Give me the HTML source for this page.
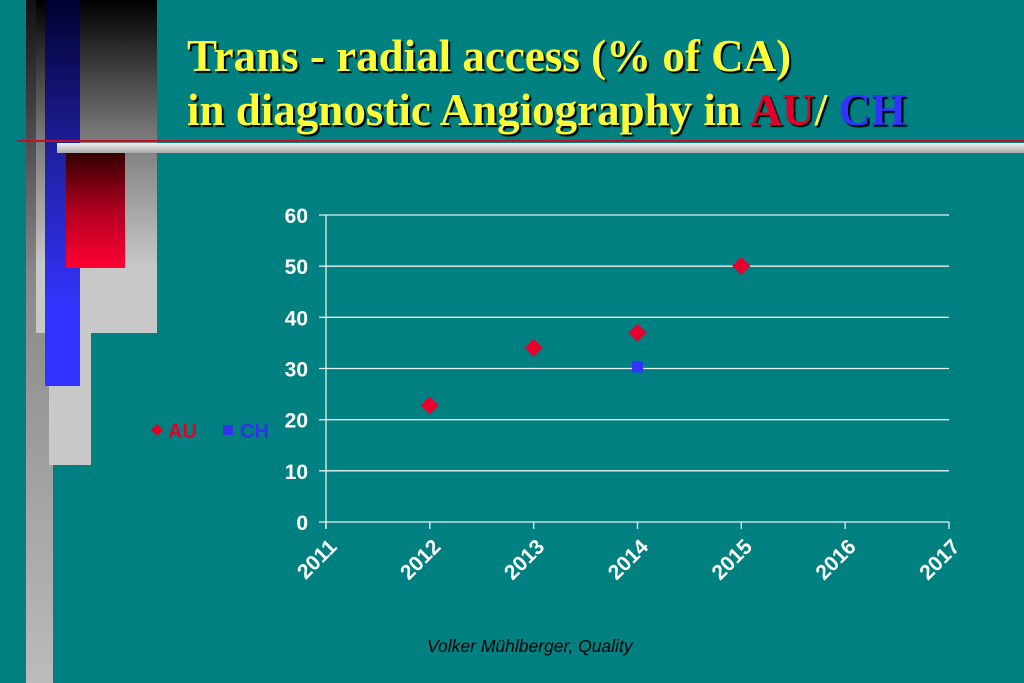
<!DOCTYPE html>
<html><head><meta charset="utf-8"><style>
body{margin:0;width:1024px;height:683px;background:#008080;position:relative;overflow:hidden;font-family:"Liberation Sans",sans-serif}
.a{position:absolute}
.t{position:absolute;left:187px;font-family:"Liberation Serif",serif;font-weight:bold;font-size:45px;line-height:52px;color:#ffff33;text-shadow:2px 2px 1px #000;white-space:nowrap}
</style></head><body>
<div class="a" style="left:26px;top:0;width:27px;height:683px;background:linear-gradient(#111,#888 40%,#bbb)"></div>
<div class="a" style="left:36px;top:0;width:121px;height:333px;background:linear-gradient(#000,#777 40%,#c8c8c8 80%)"></div>
<div class="a" style="left:49px;top:333px;width:42px;height:132px;background:#c8c8c8"></div>
<div class="a" style="left:45px;top:0;width:35px;height:386px;background:linear-gradient(#000030,#2020a0 40%,#3333ff 80%)"></div>
<div class="a" style="left:57px;top:143px;width:967px;height:10px;background:linear-gradient(#eee,#aaa)"></div>
<div class="a" style="left:17px;top:140px;width:1007px;height:2px;background:#c0102a"></div>
<div class="a" style="left:66px;top:153px;width:59px;height:115px;background:linear-gradient(#300,#b00020 50%,#ff0033)"></div>
<div class="t" style="top:30px">Trans - radial access (% of CA)</div>
<div class="t" style="top:84px">in diagnostic Angiography in <span style="color:#e0002a">AU</span>/ <span style="color:#3333ff">CH</span></div>
<svg class="a" style="left:0;top:0" width="1024" height="683">
<g id="g"></g>
</svg>
<div class="a" style="left:427px;top:636px;font-style:italic;font-size:17.5px;color:#000">Volker Mühlberger, Quality</div>
<script>
const xTicks=[2011,2012,2013,2014,2015,2016,2017];
const yTicks=[0,10,20,30,40,50,60];
const auYears=[2012,2013,2014,2015];
const auValues=[22.8,34,37,50];
const chYears=[2014];
const chValues=[30.3];
const X=v=>326+(v-2011)*(949-326)/6;
const Y=v=>522-v*(522-215)/60;
const g=document.getElementById('g');
const NS='http://www.w3.org/2000/svg';
function mk(t,a){const e=document.createElementNS(NS,t);for(const k in a)e.setAttribute(k,a[k]);g.appendChild(e);return e;}
yTicks.forEach(v=>{
  const l=mk('line',{x1:319,x2:949,y1:Y(v),y2:Y(v),stroke:'#e8f0f0','stroke-width':1.3});
  
  
  const t=mk('text',{x:308,y:Y(v)+8,'text-anchor':'end',fill:'#fff','font-size':21,'font-weight':'bold','font-family':'Liberation Sans'});
  t.textContent=v;
  
  
});
const ax=mk('line',{x1:326,x2:326,y1:215,y2:529,stroke:'#e8f0f0','stroke-width':1.3});


xTicks.forEach(v=>{
  const l=mk('line',{x1:X(v),x2:X(v),y1:522,y2:529,stroke:'#e8f0f0','stroke-width':1.3});
  
  
  const t=mk('text',{x:X(v)+12,y:548,'text-anchor':'end',fill:'#fff','font-size':21,'font-weight':'bold','font-family':'Liberation Sans',transform:`rotate(-45 ${X(v)+12} 548)`});
  t.textContent=v;
  
  
});
auYears.forEach((yr,i)=>{
  const x=X(yr),y=Y(auValues[i]);
  const p=mk('polygon',{points:`${x},${y-9} ${x+9},${y} ${x},${y+9} ${x-9},${y}`,fill:'#e8002e'});
  
  
});
chYears.forEach((yr,i)=>{
  const x=X(yr),y=Y(chValues[i]);
  const r=mk('rect',{x:x-5.5,y:y-5.5,width:11,height:11,fill:'#3333ff'});
  
  
});
const lg=[['AU','#e0002a',157],['CH','#3333ee',240]];
lg.forEach(([n,c,x])=>{
  if(n==='AU'){const p=mk('polygon',{points:`${x},424 ${x+6},430 ${x},436 ${x-6},430`,fill:c});}
  else{const r=mk('rect',{x:223,y:425,width:10,height:10,fill:c});}
  const t=mk('text',{x:n==='AU'?168:240,y:438,fill:c,'font-size':20,'font-weight':'bold','font-family':'Liberation Sans'});
  t.textContent=n;
  
  
});
</script>
</body></html>
